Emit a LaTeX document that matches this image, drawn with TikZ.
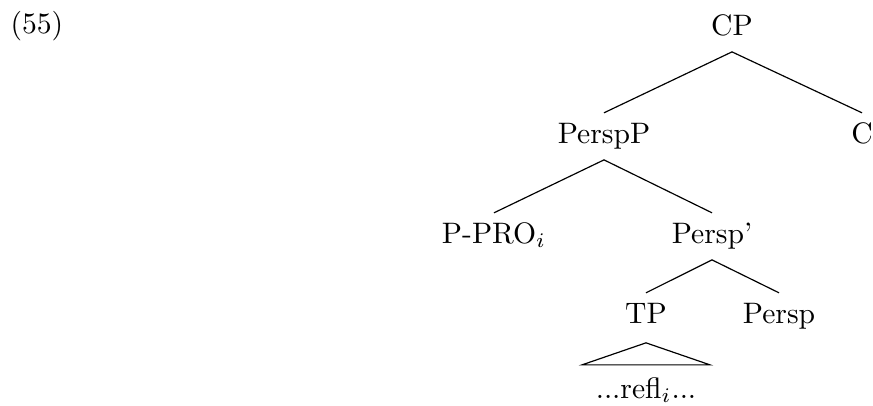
\documentclass[tikz,border=0pt]{standalone}
\begin{document}
\begin{tikzpicture}[x=0.3378pt,y=-0.3378pt,
  cat/.style={anchor=base,inner xsep=0pt,inner ysep=3pt,text height=7pt,text depth=2.5pt},
  branch/.style={line width=0.4pt}]
\useasboundingbox (0,0) rectangle (873,405);
% example number
\node[anchor=base west,inner sep=0pt] (num) at (10,33) {(55)};
% tree nodes
\node[cat] (CP)     at (732,35)  {CP};
\node[cat] (PerspP) at (604,143) {PerspP};
\node[cat] (C)      at (862,143) {C};
\node[cat] (PPRO)   at (494,243) {P-PRO$_i$};
\node[cat] (Perspb) at (712,243) {Persp'};
\node[cat] (TP)     at (646,323) {TP};
\node[cat] (Persp)  at (779,323) {Persp};
\node[cat] (refl)   at (646,398) {...refl$_i$...};
% branches
\draw[branch] (PerspP.north) -- (CP.south) -- (C.north);
\draw[branch] (PPRO.north) -- (PerspP.south) -- (Perspb.north);
\draw[branch] (TP.north) -- (Perspb.south) -- (Persp.north);
% roof over the unanalysed TP
\draw[branch] ([yshift=-1pt]TP.south)
  -- ([xshift=-21.6pt,yshift=1pt]refl.north)
  -- ([xshift=21.6pt,yshift=1pt]refl.north) -- cycle;
\end{tikzpicture}
\end{document}
